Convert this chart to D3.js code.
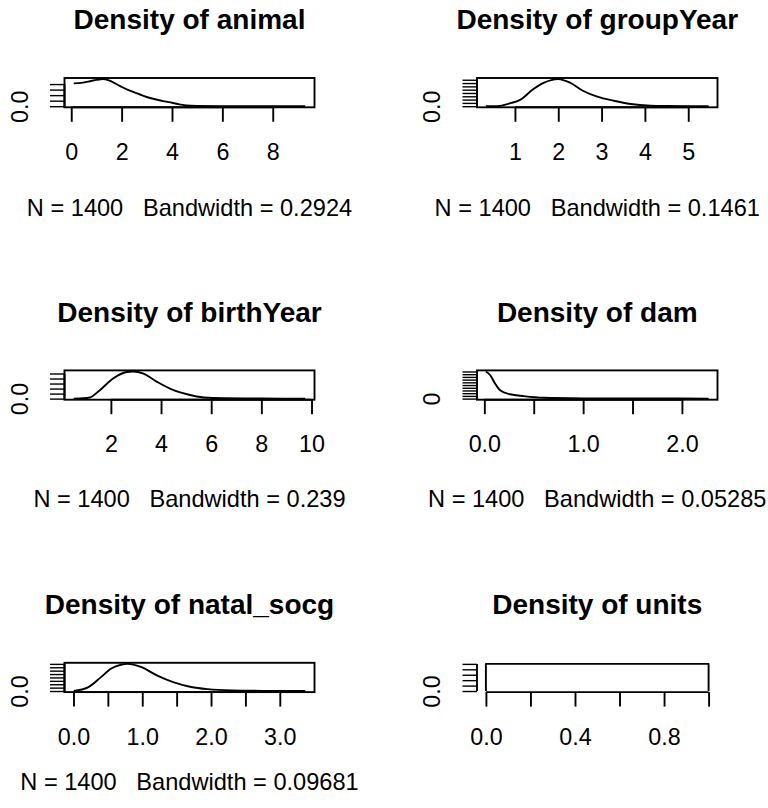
<!DOCTYPE html>
<html>
<head>
<meta charset="utf-8">
<script src="https://cdn.jsdelivr.net/npm/d3@7"></script>
<style>
  html, body { margin: 0; padding: 0; background: #fff; }
  svg { display: block; }
  text { font-family: "Liberation Sans", Arial, Helvetica, sans-serif; fill: #000; }
</style>
</head>
<body>
<svg id="chart" width="768" height="808"></svg>
<script>
// Variables whose kernel densities are drawn, in panel order (2 columns x 3 rows)
const variables = ["animal", "groupYear", "birthYear", "dam", "natal_socg", "units"];
const sampleSizes = [1400, 1400, 1400, 1400, 1400, null];
const bandwidths = ["0.2924", "0.1461", "0.239", "0.05285", "0.09681", null];

// Density estimates (x grid, density value) for each variable
const animalX = [0.10, 0.4, 0.7, 1.0, 1.25, 1.5, 1.92, 2.3, 2.71, 3.0, 3.37, 3.7, 4.0, 4.3, 4.56, 5.0, 6.0, 7.0, 8.0, 9.29];
const animalY = [0.206, 0.211, 0.223, 0.238, 0.245, 0.233, 0.184, 0.142, 0.108, 0.083, 0.061, 0.044, 0.031, 0.017, 0.007, 0.003, 0.0012, 0.0007, 0.0005, 0.0];

const groupYearX = [0.33, 0.6, 0.88, 1.12, 1.42, 1.66, 2.0, 2.28, 2.58, 2.9, 3.28, 3.67, 4.13, 4.5, 5.0, 5.47];
const groupYearY = [0.0, 0.004, 0.085, 0.19, 0.51, 0.705, 0.82, 0.705, 0.46, 0.29, 0.165, 0.066, 0.016, 0.007, 0.003, 0.0];

const birthYearX = [0.52, 0.9, 1.16, 1.56, 2.09, 2.63, 2.9, 3.3, 3.84, 4.5, 5.04, 5.7, 6.5, 8.0, 9.75];
const birthYearY = [0.0, 0.003, 0.011, 0.084, 0.2, 0.265, 0.27, 0.248, 0.167, 0.084, 0.043, 0.011, 0.003, 0.001, 0.0];

const damX = [0.016, 0.06, 0.11, 0.16, 0.26, 0.4, 0.6, 1.0, 1.5, 2.0, 2.27];
const damY = [10.0, 8.6, 5.5, 3.1, 1.6, 0.9, 0.3, 0.1, 0.05, 0.02, 0.0];

const natalX = [0.004, 0.21, 0.4, 0.55, 0.69, 0.79, 0.98, 1.22, 1.46, 1.71, 1.95, 2.3, 2.8, 3.37];
const natalY = [0.0, 0.105, 0.41, 0.665, 0.775, 0.8, 0.71, 0.455, 0.255, 0.12, 0.055, 0.016, 0.004, 0.0];

const unitsX = [0, 0, 1, 1];
const unitsY = [0, 1, 1, 0];

// Axis ticks and the labels that fit along each axis
const xTicks = [
  [0, 2, 4, 6, 8],
  [1, 2, 3, 4, 5],
  [2, 4, 6, 8, 10],
  [0, 0.5, 1.0, 1.5, 2.0],
  [0, 0.5, 1.0, 1.5, 2.0, 2.5, 3.0],
  [0, 0.2, 0.4, 0.6, 0.8, 1.0]
];
const xLabels = [
  ["0", "2", "4", "6", "8"],
  ["1", "2", "3", "4", "5"],
  ["2", "4", "6", "8", "10"],
  ["0.0", "", "1.0", "", "2.0"],
  ["0.0", "", "1.0", "", "2.0", "", "3.0"],
  ["0.0", "", "0.4", "", "0.8", ""]
];
const yTicks = [
  [0, 0.05, 0.10, 0.15, 0.20],
  [0, 0.1, 0.2, 0.3, 0.4, 0.5, 0.6, 0.7, 0.8],
  [0, 0.05, 0.10, 0.15, 0.20, 0.25],
  [0, 1, 2, 3, 4, 5, 6, 7, 8, 9, 10],
  [0, 0.1, 0.2, 0.3, 0.4, 0.5, 0.6, 0.7, 0.8],
  [0, 0.2, 0.4, 0.6, 0.8, 1.0]
];
const yLabels = ["0.0", "0.0", "0.0", "0", "0.0", "0.0"];

const curvesX = [animalX, groupYearX, birthYearX, damX, natalX, unitsX];
const curvesY = [animalY, groupYearY, birthYearY, damY, natalY, unitsY];

// Page geometry
const colLeft = [64.5, 477], colRight = [314.5, 717.5];
const rowTop = [78, 370.4, 662.8], rowBottom = [107.3, 399.7, 692.1];
const subBaseline = [215.7, 506.7, 790];
const tickLen = 14.5;
const axisFont = 23.3, subFont = 23.6, titleFont = 28;
const lw = 1.9;

const svg = d3.select("#chart");

variables.forEach((name, i) => {
  const col = i % 2, row = Math.floor(i / 2);
  const L = colLeft[col], R = colRight[col], T = rowTop[row], B = rowBottom[row];
  const xs = curvesX[i], ys = curvesY[i];

  // R-style 4% padding of the data range
  const [x0, x1] = d3.extent(xs);
  const yMax = d3.max(ys);
  const x = d3.scaleLinear().domain([x0 - 0.04 * (x1 - x0), x1 + 0.04 * (x1 - x0)]).range([L, R]);
  const y = d3.scaleLinear().domain([-0.04 * yMax, 1.04 * yMax]).range([B, T]);

  const g = svg.append("g");

  // plot frame (the degenerate "units" panel draws only its curve)
  if (name !== "units") {
    g.append("rect")
      .attr("x", L).attr("y", T).attr("width", R - L).attr("height", B - T)
      .attr("fill", "none").attr("stroke", "#000").attr("stroke-width", lw);
  }

  // density curve
  const line = d3.line().x((d, k) => x(xs[k])).y((d, k) => y(ys[k]))
    .curve(name === "units" ? d3.curveLinear : d3.curveMonotoneX);
  g.append("path").datum(xs).attr("d", line)
    .attr("fill", "none").attr("stroke", "#000").attr("stroke-width", lw)
    .attr("stroke-linejoin", "round");

  // x axis
  const xt = xTicks[i], xl = xLabels[i];
  const xAxis = d3.axisBottom(x).tickValues(xt).tickSize(tickLen).tickSizeOuter(0)
    .tickFormat((d, k) => xl[k]);
  const gx = g.append("g").attr("transform", `translate(0,${B})`).call(xAxis);
  gx.select(".domain").remove();
  gx.append("line").attr("x1", x(xt[0])).attr("x2", x(xt[xt.length - 1]))
    .attr("y1", 0).attr("y2", 0).attr("stroke", "#000").attr("stroke-width", lw);
  gx.selectAll(".tick line").attr("stroke", "#000").attr("stroke-width", lw);
  gx.selectAll(".tick text").attr("y", 52.7).attr("dy", null)
    .style("font-size", axisFont + "px").style("font-family", "Liberation Sans, Arial, sans-serif");

  // y axis: only the first label fits
  const yt = yTicks[i];
  const yAxis = d3.axisLeft(y).tickValues(yt).tickSize(tickLen).tickSizeOuter(0)
    .tickFormat((d, k) => (k === 0 ? yLabels[i] : ""));
  const gy = g.append("g").attr("transform", `translate(${L},0)`).call(yAxis);
  gy.select(".domain").remove();
  gy.append("line").attr("x1", 0).attr("x2", 0)
    .attr("y1", y(yt[0])).attr("y2", y(yt[yt.length - 1])).attr("stroke", "#000").attr("stroke-width", lw);
  gy.selectAll(".tick line").attr("stroke", "#000").attr("stroke-width", 1.4);
  gy.selectAll(".tick text")
    .attr("x", null).attr("dy", null)
    .attr("text-anchor", "middle")
    .attr("transform", "translate(-37,0) rotate(-90)")
    .style("font-size", axisFont + "px").style("font-family", "Liberation Sans, Arial, sans-serif");

  // title and subtitle
  const cx = (L + R) / 2;
  g.append("text").attr("x", cx).attr("y", T - 48.7).attr("text-anchor", "middle")
    .style("font-size", titleFont + "px").style("font-weight", "bold")
    .text("Density of " + name);
  if (bandwidths[i] !== null) {
    g.append("text").attr("x", cx).attr("y", subBaseline[row]).attr("text-anchor", "middle")
      .style("font-size", subFont + "px").attr("xml:space", "preserve")
      .style("white-space", "pre")
      .text("N = " + sampleSizes[i] + "   Bandwidth = " + bandwidths[i]);
  }
});
</script>
</body>
</html>
